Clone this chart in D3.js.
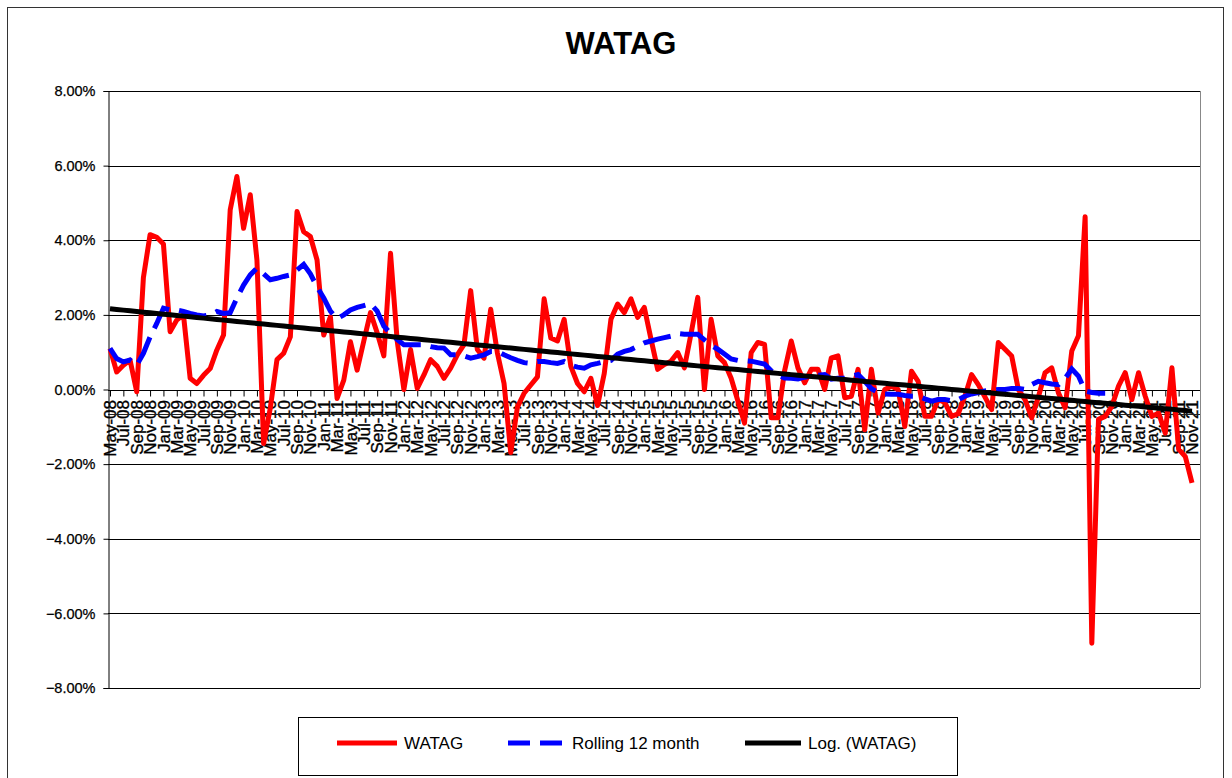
<!DOCTYPE html>
<html><head><meta charset="utf-8">
<script src="https://cdn.jsdelivr.net/npm/d3@7"></script>
<style>body{margin:0;background:#fff;} text{font-family:"Liberation Sans",Arial,sans-serif;}</style>
</head><body><svg id="c" width="1232" height="778"></svg>
<script>
// ---- data ----
const firstMonth = new Date(Date.UTC(2008, 4, 1));
const endMonthExclusive = new Date(Date.UTC(2021, 11, 1));
const monthDates = d3.utcMonths(firstMonth, endMonthExclusive);
const categories = monthDates.map(d3.utcFormat("%b-%y"));

const watag = [
 1.10,0.47,0.65,0.79,-0.06,3.00,4.15,4.08,3.90,1.55,
 1.86,2.00,0.30,0.16,0.38,0.56,1.06,1.46,4.82,5.71,
 4.32,5.22,3.47,-1.45,-0.50,0.80,0.97,1.41,4.77,4.23,
 4.10,3.47,1.46,1.95,-0.24,0.25,1.28,0.52,1.30,2.06,
 1.52,0.90,3.65,1.30,0.00,1.07,0.03,0.39,0.80,0.62,
 0.30,0.57,0.93,1.20,2.65,1.07,0.84,2.15,0.98,0.16,
 -1.69,-0.47,-0.10,0.12,0.34,2.43,1.38,1.30,1.88,0.62,
 0.16,-0.06,0.30,-0.43,0.43,1.88,2.29,2.06,2.43,1.93,
 2.20,1.35,0.54,0.67,0.76,0.99,0.58,1.50,2.47,0.00,
 1.88,0.90,0.72,0.30,-0.30,-0.90,0.99,1.26,1.21,-0.76,
 -0.76,0.50,1.30,0.58,0.18,0.54,0.54,0.00,0.85,0.90,
 -0.22,-0.18,0.54,-1.08,0.54,-0.63,0.00,0.09,0.00,-0.99,
 0.49,0.22,-0.72,-0.72,-0.27,-0.35,-0.72,-0.65,-0.18,0.40,
 0.13,-0.20,-0.54,1.26,1.08,0.90,0.00,-0.27,-0.76,-0.20,
 0.45,0.58,-0.09,-0.49,1.03,1.44,4.63,-6.80,-0.80,-0.72,
 -0.45,0.09,0.45,-0.27,0.45,-0.18,-0.72,-0.63,-1.17,0.58,
 -1.60,-1.80,-2.50
];

const rolling12 = [
 1.10,0.83,0.74,0.79,0.65,0.97,1.41,1.77,2.18,2.13,
 2.13,2.09,2.04,2.00,1.97,2.00,2.09,2.04,2.06,2.45,
 2.80,3.07,3.25,3.10,2.94,2.98,3.03,3.07,3.20,3.35,
 3.10,2.75,2.45,2.10,1.90,2.00,2.13,2.20,2.25,2.30,
 2.10,1.70,1.50,1.34,1.20,1.20,1.20,1.20,1.15,1.12,
 1.11,0.93,0.93,0.90,0.84,0.88,0.93,1.02,1.02,0.93,
 0.85,0.78,0.72,0.70,0.75,0.75,0.72,0.70,0.75,0.65,
 0.60,0.57,0.66,0.70,0.75,0.78,0.95,1.02,1.07,1.16,
 1.25,1.30,1.35,1.39,1.43,1.50,1.48,1.48,1.48,1.33,
 1.18,1.08,0.95,0.82,0.78,0.77,0.76,0.72,0.68,0.50,
 0.38,0.31,0.30,0.28,0.33,0.36,0.38,0.40,0.28,0.30,
 0.30,0.36,0.40,0.22,0.02,-0.08,-0.12,-0.13,-0.13,-0.16,
 -0.18,-0.18,-0.25,-0.31,-0.27,-0.27,-0.30,-0.27,-0.18,-0.12,
 -0.08,-0.04,-0.02,0.00,0.00,0.03,0.03,0.00,0.13,0.22,
 0.18,0.15,0.13,0.30,0.55,0.36,-0.04,-0.08,-0.10,-0.10
];

const yTickValues = [-8,-6,-4,-2,0,2,4,6,8];
const titleText = "WATAG";
const seriesNames = ["WATAG", "Rolling 12 month", "Log. (WATAG)"];

// Excel-style logarithmic trendline on date serial numbers
const excelEpoch = Date.UTC(1899, 11, 30);
const serials = monthDates.map(d => (d - excelEpoch) / 864e5);
const lx = serials.map(Math.log);
const mx = d3.mean(lx), my = d3.mean(watag);
let sxy = 0, sxx = 0;
lx.forEach((v, i) => { sxy += (v - mx) * (watag[i] - my); sxx += (v - mx) * (v - mx); });
const slope = sxy / sxx, icpt = my - slope * mx;
const trend = lx.map(v => slope * v + icpt);

// ---- drawing ----
const svg = d3.select("#c");
const L = 108, R = 1200, T = 91, B = 688;
const x = d3.scalePoint().domain(categories).range([110, 1192]);
const y = d3.scaleLinear().domain([-8, 8]).range([B, T]);

svg.append("rect").attr("x", 7.5).attr("y", 7.5).attr("width", 1216).attr("height", 800)
  .attr("fill", "#fff").attr("stroke", "#333").attr("stroke-width", 1);

svg.append("text").attr("x", 621).attr("y", 54).attr("text-anchor", "middle")
  .attr("font-size", 31).attr("font-weight", "bold").text(titleText);

// gridlines
svg.append("g").selectAll("line").data(yTickValues).join("line")
  .attr("x1", L).attr("x2", R).attr("y1", d => Math.round(y(d)) + 0.5).attr("y2", d => Math.round(y(d)) + 0.5)
  .attr("stroke", "#000").attr("stroke-width", 1);
// plot right border
svg.append("line").attr("x1", R + 0.5).attr("x2", R + 0.5).attr("y1", T).attr("y2", B)
  .attr("stroke", "#888").attr("stroke-width", 1);

// y axis
const yAxis = d3.axisLeft(y).tickValues(yTickValues).tickSize(5).tickPadding(8)
  .tickFormat(d => d3.format(".2f")(d) + "%");
const ga = svg.append("g").attr("transform", `translate(${L + 0.5},0)`).call(yAxis);
ga.select(".domain").attr("stroke", "#000");
ga.selectAll("text").attr("font-size", 14.5).attr("font-family", "Liberation Sans, Arial, sans-serif")
  .attr("fill", "#000").attr("stroke", "#000").attr("stroke-width", 0.25);

// x axis at 0%
const labelled = categories.filter((c, i) => i % 2 === 0);
const xAxis = d3.axisBottom(x).tickValues(labelled).tickSize(6).tickFormat("");
const gx = svg.append("g").attr("transform", `translate(0,${Math.round(y(0)) + 0.5})`).call(xAxis);
gx.select(".domain").attr("d", `M${L},0H${R}`).attr("stroke", "#000");
gx.selectAll(".tick line").attr("stroke", "#000");
svg.append("g").selectAll("text").data(labelled).join("text")
  .attr("transform", d => `translate(${x(d)},${Math.round(y(0)) + 10}) rotate(-90)`)
  .attr("text-anchor", "end").attr("dy", "0.36em").attr("font-size", 17).attr("fill", "#000")
  .attr("stroke", "#000").attr("stroke-width", 0.35)
  .text(d => d);
svg.append("line").attr("x1", L).attr("x2", R).attr("y1", 414.5).attr("y2", 414.5)
  .attr("stroke", "#222").attr("stroke-width", 1.2);

// series
const line = d3.line().x((d, i) => x(categories[i])).y(d => y(d));
svg.append("path").datum(watag).attr("d", line).attr("fill", "none")
  .attr("stroke", "#ff0000").attr("stroke-width", 5).attr("stroke-linejoin", "round");
svg.append("path").datum(rolling12).attr("d", line).attr("fill", "none")
  .attr("stroke", "#0000ff").attr("stroke-width", 5).attr("stroke-dasharray", "28,10");
svg.append("path").datum(trend).attr("d", line).attr("fill", "none")
  .attr("stroke", "#000").attr("stroke-width", 5);

// legend
const lg = svg.append("g");
lg.append("rect").attr("x", 298.5).attr("y", 717.5).attr("width", 659).attr("height", 58)
  .attr("fill", "#fff").attr("stroke", "#000").attr("stroke-width", 1);
const items = [
  {x1: 337, x2: 397, tx: 404, color: "#ff0000", dash: null},
  {x1: 508, x2: 566, tx: 572, color: "#0000ff", dash: "22,10"},
  {x1: 745, x2: 801, tx: 808, color: "#000", dash: null}
];
items.forEach((it, k) => {
  lg.append("line").attr("x1", it.x1).attr("x2", it.x2).attr("y1", 743).attr("y2", 743)
    .attr("stroke", it.color).attr("stroke-width", 5).attr("stroke-dasharray", it.dash);
  lg.append("text").attr("x", it.tx).attr("y", 749).attr("font-size", 17).text(seriesNames[k]);
});
</script></body></html>
